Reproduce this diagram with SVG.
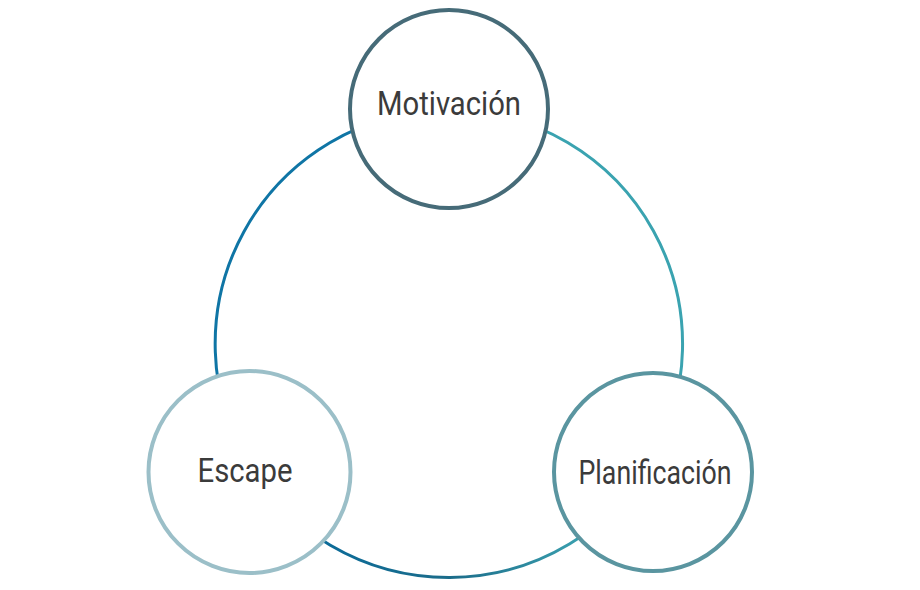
<svg xmlns="http://www.w3.org/2000/svg" width="920" height="590" viewBox="0 0 920 590">
  <defs>
    <linearGradient id="gBottom" gradientUnits="userSpaceOnUse" x1="320" y1="0" x2="580" y2="0">
      <stop offset="0" stop-color="#0b6b99"/>
      <stop offset="0.5" stop-color="#1b6c8a"/>
      <stop offset="1" stop-color="#3a9fae"/>
    </linearGradient>
  </defs>
  <style>
    .arc { fill: none; stroke-width: 3; }
    .node { fill: #ffffff; stroke-width: 4; }
    .label { font-family: Roboto, "Liberation Sans", sans-serif; font-size: 33px; fill: #3b3b3b; text-anchor: middle; }
  </style>
  <rect width="920" height="590" fill="#ffffff"/>
  <g id="connectors">
    <path class="arc" stroke="#0f75a5" d="M 449 110 A 234 234 0 0 0 252 470"/>
    <path class="arc" stroke="#3aa3b0" d="M 449 110 A 234 234 0 0 1 647 468"/>
    <path class="arc" stroke="url(#gBottom)" d="M 252 470 A 234 234 0 0 0 647 468"/>
  </g>
  <g id="motivacion">
    <circle class="node" cx="449" cy="109" r="99" stroke="#466b78"/>
    <text class="label" x="449" y="115" textLength="144" lengthAdjust="spacingAndGlyphs">Motivación</text>
  </g>
  <g id="escape">
    <circle class="node" cx="249.5" cy="472" r="101" stroke="#9bbfc8"/>
    <text class="label" x="245" y="482" textLength="95" lengthAdjust="spacingAndGlyphs">Escape</text>
  </g>
  <g id="planificacion">
    <circle class="node" cx="653" cy="472" r="99" stroke="#5a95a0"/>
    <text class="label" x="655" y="484" textLength="153" lengthAdjust="spacingAndGlyphs">Planificación</text>
  </g>
</svg>
